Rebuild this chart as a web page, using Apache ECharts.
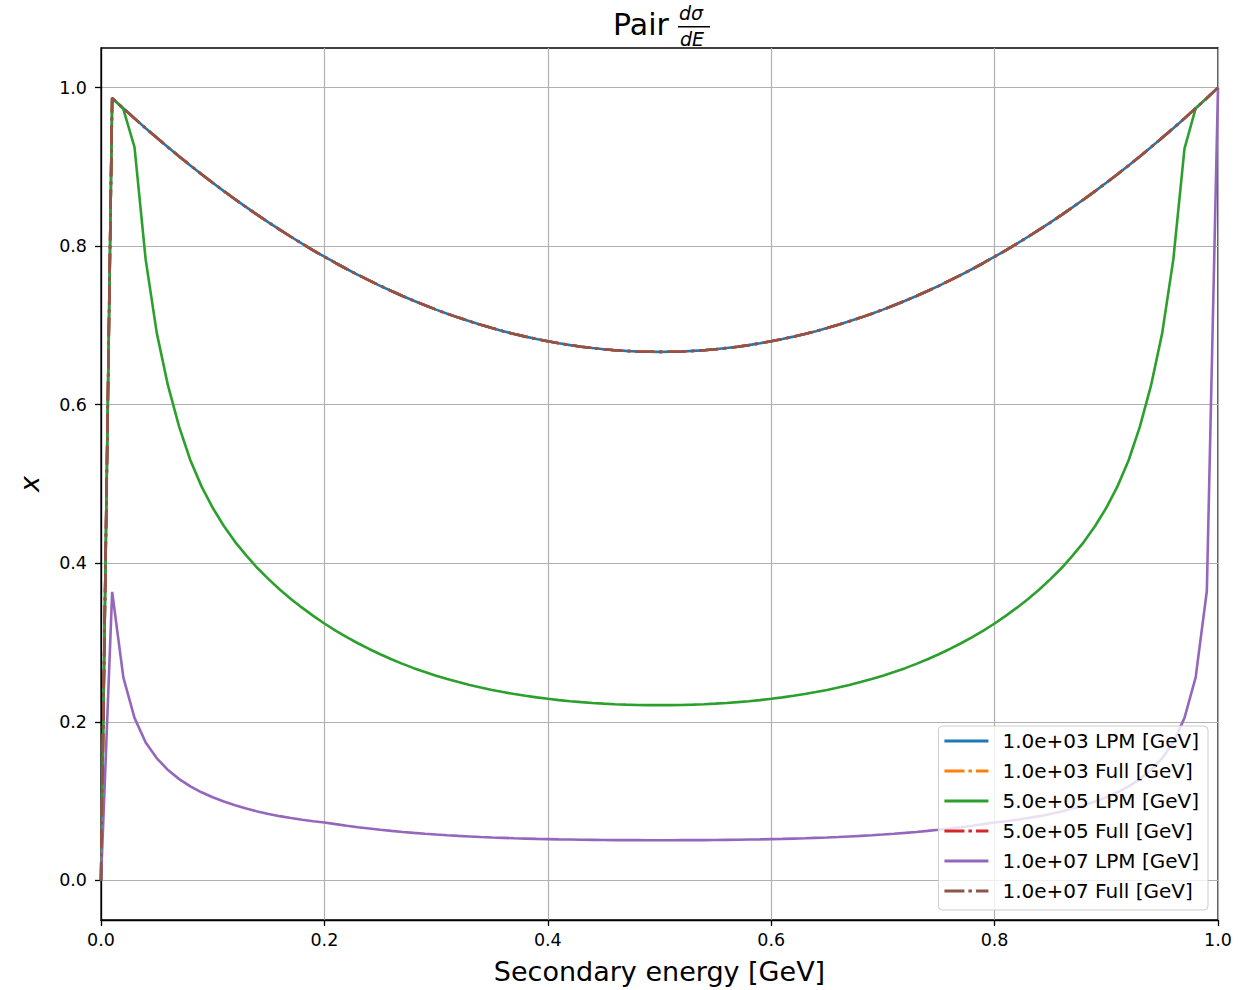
<!DOCTYPE html>
<html>
<head>
<meta charset="utf-8">
<script src="https://cdn.jsdelivr.net/npm/echarts@6/dist/echarts.min.js"></script>
<style>
html,body{margin:0;padding:0;background:#fff;}
#c{width:1256px;height:990px;}
</style>
</head>
<body>
<div id="c"></div>
<script>
// Secondary energy grid (x values)
const energies = [
  0.00,0.01,0.02,0.03,0.04,0.05,0.06,0.07,0.08,0.09,
  0.10,0.11,0.12,0.13,0.14,0.15,0.16,0.17,0.18,0.19,
  0.20,0.21,0.22,0.23,0.24,0.25,0.26,0.27,0.28,0.29,
  0.30,0.31,0.32,0.33,0.34,0.35,0.36,0.37,0.38,0.39,
  0.40,0.41,0.42,0.43,0.44,0.45,0.46,0.47,0.48,0.49,
  0.50,0.51,0.52,0.53,0.54,0.55,0.56,0.57,0.58,0.59,
  0.60,0.61,0.62,0.63,0.64,0.65,0.66,0.67,0.68,0.69,
  0.70,0.71,0.72,0.73,0.74,0.75,0.76,0.77,0.78,0.79,
  0.80,0.81,0.82,0.83,0.84,0.85,0.86,0.87,0.88,0.89,
  0.90,0.91,0.92,0.93,0.94,0.95,0.96,0.97,0.98,0.99,
  1.00
];

// 1.0e+03 LPM — the "Full" curves lie exactly on top of it
const lpm1e3 = [
  0.0000,0.9868,0.9739,0.9612,0.9488,0.9367,0.9248,0.9132,0.9019,0.8908,
  0.8800,0.8695,0.8592,0.8492,0.8395,0.8300,0.8208,0.8119,0.8032,0.7948,
  0.7867,0.7788,0.7712,0.7639,0.7568,0.7500,0.7435,0.7372,0.7312,0.7255,
  0.7200,0.7148,0.7099,0.7052,0.7008,0.6967,0.6928,0.6892,0.6859,0.6828,
  0.6800,0.6775,0.6752,0.6732,0.6715,0.6700,0.6688,0.6679,0.6672,0.6668,
  0.6667,0.6668,0.6672,0.6679,0.6688,0.6700,0.6715,0.6732,0.6752,0.6775,
  0.6800,0.6828,0.6859,0.6892,0.6928,0.6967,0.7008,0.7052,0.7099,0.7148,
  0.7200,0.7255,0.7312,0.7372,0.7435,0.7500,0.7568,0.7639,0.7712,0.7788,
  0.7867,0.7948,0.8032,0.8119,0.8208,0.8300,0.8395,0.8492,0.8592,0.8695,
  0.8800,0.8908,0.9019,0.9132,0.9248,0.9367,0.9488,0.9612,0.9739,0.9868,
  1.0000
];
const full1e3 = lpm1e3;
const full5e5 = lpm1e3;
const full1e7 = lpm1e3;

// 5.0e+05 LPM
const lpm5e5 = [
  0.0000,0.9868,0.9730,0.9250,0.7830,0.6900,0.6240,0.5720,0.5300,0.4970,
  0.4700,0.4470,0.4270,0.4100,0.3940,0.3800,0.3670,0.3550,0.3440,0.3337,
  0.3240,0.3151,0.3068,0.2991,0.2919,0.2852,0.2789,0.2731,0.2677,0.2628,
  0.2582,0.2540,0.2501,0.2465,0.2432,0.2402,0.2375,0.2350,0.2328,0.2308,
  0.2290,0.2274,0.2260,0.2248,0.2238,0.2229,0.2222,0.2217,0.2213,0.2211,
  0.2210,0.2211,0.2213,0.2217,0.2222,0.2229,0.2238,0.2248,0.2260,0.2274,
  0.2290,0.2308,0.2328,0.2350,0.2375,0.2402,0.2432,0.2465,0.2501,0.2540,
  0.2582,0.2628,0.2677,0.2731,0.2789,0.2852,0.2919,0.2991,0.3068,0.3151,
  0.3240,0.3337,0.3440,0.3550,0.3670,0.3800,0.3940,0.4100,0.4270,0.4470,
  0.4700,0.4970,0.5300,0.5720,0.6240,0.6900,0.7830,0.9230,0.9739,0.9868,
  1.0000
];

// 1.0e+07 LPM
const lpm1e7 = [
  0.0000,0.3640,0.2560,0.2050,0.1740,0.1540,0.1391,0.1277,0.1186,0.1111,
  0.1048,0.0994,0.0947,0.0906,0.0870,0.0838,0.0810,0.0786,0.0765,0.0746,
  0.0730,0.0709,0.0689,0.0670,0.0654,0.0638,0.0624,0.0611,0.0599,0.0588,
  0.0578,0.0569,0.0561,0.0554,0.0547,0.0541,0.0536,0.0531,0.0527,0.0523,
  0.0520,0.0517,0.0515,0.0513,0.0511,0.0509,0.0508,0.0507,0.0507,0.0506,
  0.0506,0.0506,0.0507,0.0507,0.0508,0.0509,0.0511,0.0513,0.0515,0.0517,
  0.0520,0.0523,0.0527,0.0531,0.0536,0.0541,0.0547,0.0554,0.0561,0.0569,
  0.0578,0.0588,0.0599,0.0611,0.0624,0.0638,0.0654,0.0670,0.0689,0.0709,
  0.0730,0.0746,0.0765,0.0786,0.0810,0.0838,0.0870,0.0906,0.0947,0.0994,
  0.1048,0.1111,0.1186,0.1277,0.1391,0.1540,0.1740,0.2050,0.2560,0.3650,
  1.0000
];

const seriesNames = [
  '1.0e+03 LPM [GeV]', '1.0e+03 Full [GeV]',
  '5.0e+05 LPM [GeV]', '5.0e+05 Full [GeV]',
  '1.0e+07 LPM [GeV]', '1.0e+07 Full [GeV]'
];
const seriesColors = ['#1f77b4', '#ff7f0e', '#2ca02c', '#d62728', '#9467bd', '#8c564b'];
const xTicks = [0.0, 0.2, 0.4, 0.6, 0.8, 1.0];
const yTicks = [0.0, 0.2, 0.4, 0.6, 0.8, 1.0];

const FONT = 'DejaVu Sans';
const LW = 2.6;
const DASHDOT = [19, 5, 3, 5];
const ICON_SOLID = 'path://M0,0H44V3H0Z';
const ICON_DASHDOT = 'path://M0,0H20V3H0Z M24,0H27.5V3H24Z M31.5,0H44V3H31.5Z';

function mk(name, values, color, dashed) {
  return {
    name: name,
    type: 'line',
    data: energies.map((x, i) => [x, values[i]]),
    symbol: 'none',
    showSymbol: false,
    smooth: false,
    animation: false,
    emphasis: { disabled: true },
    itemStyle: { color: color },
    lineStyle: { color: color, width: LW, type: dashed ? DASHDOT : 'solid', cap: 'butt' }
  };
}

const chart = echarts.init(document.getElementById('c'), null, { renderer: 'svg', width: 1256, height: 990 });

chart.setOption({
  animation: false,
  backgroundColor: '#ffffff',
  textStyle: { fontFamily: FONT, color: '#000' },
  title: {
    text: 'Pair',
    left: 608,
    top: 4,
    textStyle: { fontFamily: FONT, fontSize: 30, fontWeight: 'normal', color: '#000' }
  },
  graphic: [
    { type: 'text', left: 679, top: 3, style: { text: 'dσ', font: 'italic 19px "DejaVu Sans"', fill: '#000' } },
    { type: 'rect', shape: { x: 678, y: 26, width: 32, height: 1.5 }, style: { fill: '#000' } },
    { type: 'text', left: 680, top: 29, style: { text: 'dE', font: 'italic 19px "DejaVu Sans"', fill: '#000' } }
  ],
  grid: {
    left: 101, top: 48, right: 38, bottom: 70,
    show: true, borderColor: '#000', borderWidth: 1.3, backgroundColor: 'transparent',
    containLabel: false
  },
  legend: {
    orient: 'vertical',
    right: 48,
    bottom: 80,
    data: seriesNames.map((n, i) => ({ name: n, icon: i % 2 === 0 ? ICON_SOLID : ICON_DASHDOT, itemStyle: { color: seriesColors[i] } })),
    padding: [5, 9, 9, 6],
    itemWidth: 44,
    itemHeight: 20,
    itemGap: 10,
    symbolKeepAspect: true,
    backgroundColor: 'rgba(255,255,255,0.8)',
    borderColor: '#cccccc',
    borderWidth: 1,
    borderRadius: 4,
    selectedMode: false,
    textStyle: { fontFamily: FONT, fontSize: 20, color: '#000', padding: [0, 0, 0, 9] }
  },
  xAxis: {
    type: 'value',
    min: 0, max: 1, interval: 0.2,
    name: 'Secondary energy [GeV]',
    nameLocation: 'middle',
    nameGap: 38,
    nameTextStyle: { fontFamily: FONT, fontSize: 27, color: '#000' },
    axisLine: { show: true, onZero: false, lineStyle: { color: '#000', width: 1.3 } },
    axisTick: { show: true, length: 6, customValues: xTicks, lineStyle: { color: '#000', width: 1.3 } },
    axisLabel: { customValues: xTicks, formatter: v => v.toFixed(1), fontSize: 17.5, margin: 11, color: '#000', fontFamily: FONT },
    splitLine: { show: true, lineStyle: { color: '#b0b0b0', width: 1.2 } }
  },
  yAxis: {
    type: 'value',
    min: -0.05, max: 1.05,
    name: 'x',
    nameLocation: 'middle',
    nameGap: 58,
    nameRotate: 90,
    nameTextStyle: { fontFamily: FONT, fontSize: 27, fontStyle: 'italic', color: '#000' },
    axisLine: { show: true, onZero: false, lineStyle: { color: '#000', width: 1.3 } },
    axisTick: { show: true, length: 6, customValues: yTicks, lineStyle: { color: '#000', width: 1.3 } },
    axisLabel: { customValues: yTicks, formatter: v => v.toFixed(1), fontSize: 17.5, margin: 14, color: '#000', fontFamily: FONT },
    splitLine: { show: true, lineStyle: { color: '#b0b0b0', width: 1.2 } }
  },
  series: [
    mk(seriesNames[0], lpm1e3, seriesColors[0], false),
    mk(seriesNames[1], full1e3, seriesColors[1], true),
    mk(seriesNames[2], lpm5e5, seriesColors[2], false),
    mk(seriesNames[3], full5e5, seriesColors[3], true),
    mk(seriesNames[4], lpm1e7, seriesColors[4], false),
    mk(seriesNames[5], full1e7, seriesColors[5], true)
  ]
});
</script>
</body>
</html>
